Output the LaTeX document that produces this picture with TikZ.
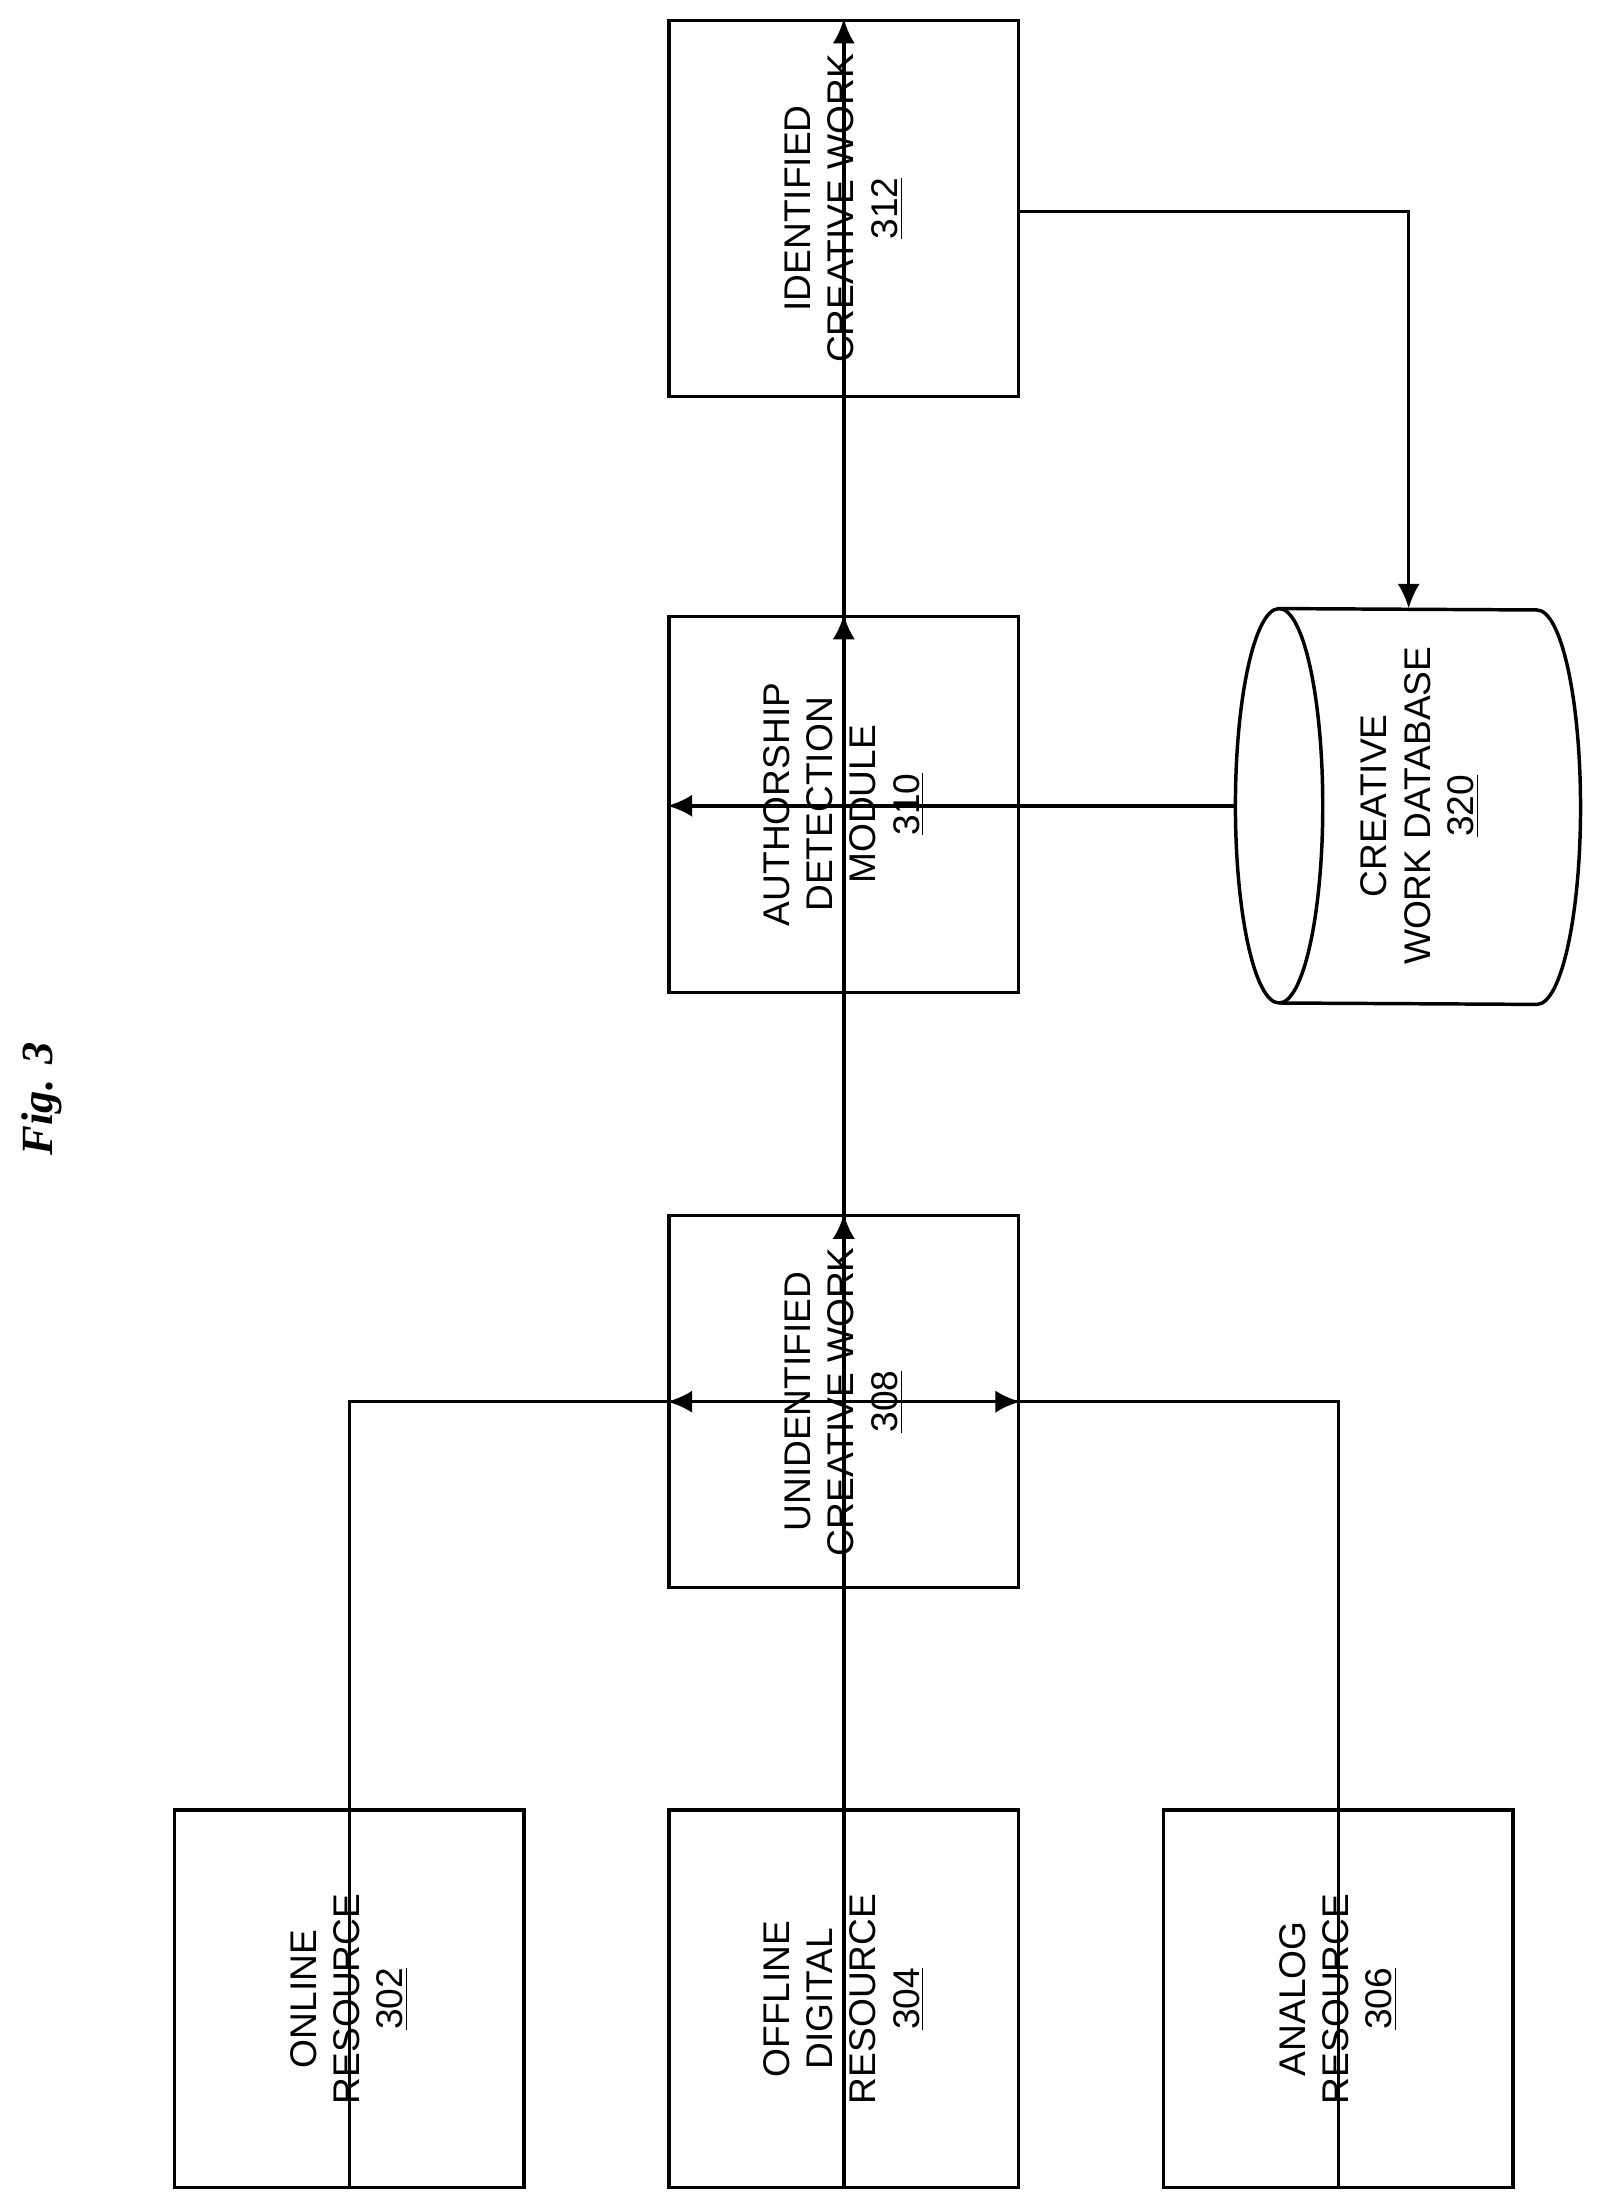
\documentclass[tikz,border=0pt]{standalone}
\usepackage{fontspec}
\setmainfont{Liberation Sans}
\newfontfamily\figfont{Liberation Serif}
\usetikzlibrary{arrows.meta}
\begin{document}
\begin{tikzpicture}[x=0.02cm,y=-0.02cm,
 box/.style={draw,line width=1.4pt,minimum width=5.36cm,minimum height=4.96cm,rotate=90,align=center,font=\fontsize{15}{17.5}\selectfont},
 arr/.style={line width=1.4pt,-{Latex[length=10pt,width=9pt]}}]
\useasboundingbox (0,0) rectangle (1140,1566);
\node[box] (a) at (248,1419) {ONLINE\\RESOURCE\\\underline{302}};
\node[box] (b) at (599,1419) {OFFLINE\\DIGITAL\\RESOURCE\\\underline{304}};
\node[box] (c) at (950,1419) {ANALOG\\RESOURCE\\\underline{306}};
\node[box,minimum width=5.28cm] (u) at (599,995) {UNIDENTIFIED\\CREATIVE WORK\\\underline{308}};
\node[box,minimum width=5.34cm] (m) at (599,571) {AUTHORSHIP\\DETECTION\\MODULE\\\underline{310}};
\node[box,minimum width=5.34cm] (i) at (599,148) {IDENTIFIED\\CREATIVE WORK\\\underline{312}};
\draw[line width=1.4pt] (908,432) arc[start angle=90,end angle=270,x radius=31,y radius=-140]
 -- (1091,713) arc[start angle=-90,end angle=90,x radius=31,y radius=-140] -- cycle;
\draw[line width=1.4pt] (908,432) arc[start angle=90,end angle=-90,x radius=31,y radius=-140];
\node[rotate=90,align=center,font=\fontsize{15}{17.5}\selectfont] (d) at (1008,572) {CREATIVE\\WORK DATABASE\\\underline{320}};
\coordinate (dw) at (877,572);
\coordinate (dn) at (1000,432);
\node[rotate=90,font=\figfont\bfseries\itshape\fontsize{18}{20}\selectfont] (f) at (30,780) {Fig. 3};
\draw[arr] (a.west) |- (u.south);
\draw[arr] (b.west) -- (u.east);
\draw[arr] (c.west) |- (u.north);
\draw[arr] (u.west) -- (m.east);
\draw[arr] (m.west) -- (i.east);
\draw[arr] (i.south |- 0,150) -| (dn);
\draw[arr] (dw) -- (m.north |- dw);
\end{tikzpicture}
\end{document}
